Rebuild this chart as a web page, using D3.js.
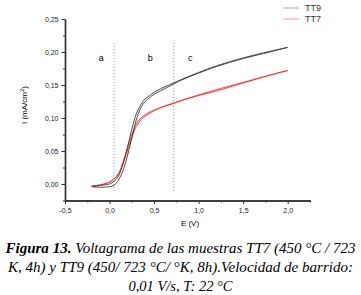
<!DOCTYPE html>
<html><head><meta charset="utf-8">
<script src="https://cdn.jsdelivr.net/npm/d3@7"></script>
<style>body{margin:0;background:#fff}svg{display:block}</style>
</head><body>
<svg id="c" width="361" height="295"></svg>
<script>
// Data (E in V, I in mA/cm2)
const tt9Forward = [[-0.2,-0.004],[-0.1,-0.005],[0.0,-0.004],[0.05,-0.002],[0.1,0.006],[0.15,0.02],[0.2,0.042],[0.25,0.07],[0.3,0.097],[0.35,0.115],[0.4,0.125],[0.45,0.131],[0.5,0.136],[0.6,0.143],[0.7,0.150],[0.8,0.157],[1.0,0.168],[1.2,0.178],[1.5,0.19],[1.8,0.2],[2.0,0.207]];
const tt9Backward = [[2.0,0.207],[1.8,0.201],[1.5,0.191],[1.2,0.179],[1.0,0.169],[0.8,0.158],[0.7,0.152],[0.6,0.146],[0.5,0.139],[0.45,0.134],[0.4,0.129],[0.35,0.12],[0.3,0.106],[0.25,0.083],[0.2,0.055],[0.15,0.03],[0.1,0.012],[0.05,0.004],[0.0,0.0],[-0.1,-0.002],[-0.2,-0.004]];
const tt7Forward = [[-0.2,-0.003],[-0.1,-0.002],[0.0,0.003],[0.05,0.008],[0.1,0.016],[0.15,0.03],[0.2,0.05],[0.25,0.07],[0.3,0.087],[0.35,0.097],[0.4,0.103],[0.5,0.111],[0.6,0.117],[0.7,0.121],[0.8,0.126],[1.0,0.134],[1.2,0.141],[1.5,0.153],[1.8,0.165],[2.0,0.172]];
const tt7Backward = [[2.0,0.172],[1.5,0.154],[1.0,0.135],[0.5,0.112],[0.4,0.105],[0.35,0.1],[0.3,0.091],[0.25,0.075],[0.2,0.054],[0.15,0.033],[0.1,0.015],[0.05,0.007],[0.0,0.003],[-0.1,-0.001],[-0.2,-0.003]];
const xTicks = [-0.5,0.0,0.5,1.0,1.5,2.0];
const yTicks = [0.00,0.05,0.10,0.15,0.20,0.25];
const regionLines = [0.05,0.72];
const regionLabels = [["a",-0.12],["b",0.43],["c",0.88]];
const seriesNames = ["TT9","TT7"];
const seriesColors = ["#3a3a3a","#ff2a2a"];
const legendColors = ["#aaa","#ff9a9a"];
const captionLines = [
  [["Figura 13.",true],[" Voltagrama de las muestras TT7 (450 °C / 723",false]],
  [["K, 4h) y TT9 (450/ 723 °C/ °K, 8h).Velocidad de barrido:",false]],
  [["0,01 V/s, T: 22 °C",false]]
];

const svg = d3.select("#c");
const x = d3.scaleLinear().domain([-0.5,2.25]).range([65,310]);
const y = d3.scaleLinear().domain([-0.025,0.25]).range([200.5,19]);
const fmt = d => d3.format(".2f")(d).replace(".",",");
const fmtx = d => d3.format(".1f")(d).replace(".",",").replace("−","-");

// region dotted lines
svg.selectAll(".reg").data(regionLines).enter().append("line")
  .attr("x1",d=>x(d)).attr("x2",d=>x(d)).attr("y1",43).attr("y2",192)
  .attr("stroke","#888").attr("stroke-width",0.8).attr("stroke-dasharray","1,2");
svg.selectAll(".rl").data(regionLabels).enter().append("text")
  .attr("x",d=>x(d[1])).attr("y",61).text(d=>d[0])
  .attr("font-family","Liberation Sans, Arial").attr("font-size",9).attr("fill","#000");

// curves
const lineB = d3.line().x(d=>x(d[0])).y(d=>y(d[1])).curve(d3.curveCatmullRom);
[[tt7Forward,1],[tt7Backward,1],[tt9Forward,0],[tt9Backward,0]].forEach(([data,i])=>{
  svg.append("path").attr("d",lineB(data)).attr("fill","none")
    .attr("stroke",seriesColors[i]).attr("stroke-width",0.9);
});

// axes
const gx = svg.append("g").attr("transform","translate(0,200.5)");
gx.call(d3.axisBottom(x).tickValues(xTicks).tickFormat(fmtx).tickSize(3.5).tickSizeOuter(0));
gx.append("g").call(d3.axisBottom(x).tickValues(d3.range(-0.25,2.3,0.5)).tickFormat("").tickSize(2).tickSizeOuter(0));
const gy = svg.append("g").attr("transform","translate(65,0)");
gy.call(d3.axisLeft(y).tickValues(yTicks).tickFormat(fmt).tickSize(3.5).tickSizeOuter(0));
gy.append("g").call(d3.axisLeft(y).tickValues(d3.range(-0.025,0.25,0.05)).tickFormat("").tickSize(2).tickSizeOuter(0));
svg.selectAll(".domain").attr("stroke","#333").attr("stroke-width",1.4);
svg.selectAll(".tick line").attr("stroke","#333").attr("stroke-width",1);
svg.selectAll(".tick text").attr("font-family","Liberation Sans, Arial").attr("font-size",7).attr("fill","#222");
gx.selectAll(".tick text").attr("dy","0.9em");

svg.append("text").attr("x",190).attr("y",226).attr("text-anchor","middle")
  .attr("font-family","Liberation Sans, Arial").attr("font-size",8).text("E (V)");
const yt = svg.append("text").attr("transform","translate(27,105) rotate(-90)").attr("text-anchor","middle")
  .attr("font-family","Liberation Sans, Arial").attr("font-size",8);
yt.append("tspan").text("I (mA/cm");
yt.append("tspan").attr("font-size",6).attr("dy",-3).text("2");
yt.append("tspan").attr("dy",3).text(")");

// legend
seriesNames.forEach((n,i)=>{
  const ly = 8 + i*11;
  svg.append("line").attr("x1",283).attr("x2",299).attr("y1",ly).attr("y2",ly)
    .attr("stroke",legendColors[i]).attr("stroke-width",1);
  svg.append("text").attr("x",305).attr("y",ly+3).text(n)
    .attr("font-family","Liberation Sans, Arial").attr("font-size",9).attr("fill","#333");
});

// caption
const capLens = [350, 345, null];
captionLines.forEach((ln,i)=>{
  const t = svg.append("text").attr("x",180.5).attr("y",252.5+i*19).attr("text-anchor","middle")
    .attr("font-family","Liberation Serif, Times New Roman, serif").attr("font-style","italic").attr("font-size",14.5);
  ln.forEach(([s,b])=> t.append("tspan").attr("font-weight",b?"bold":"normal").text(s));
  if (capLens[i]) t.attr("textLength",capLens[i]).attr("lengthAdjust","spacingAndGlyphs");
});
</script>
</body></html>
